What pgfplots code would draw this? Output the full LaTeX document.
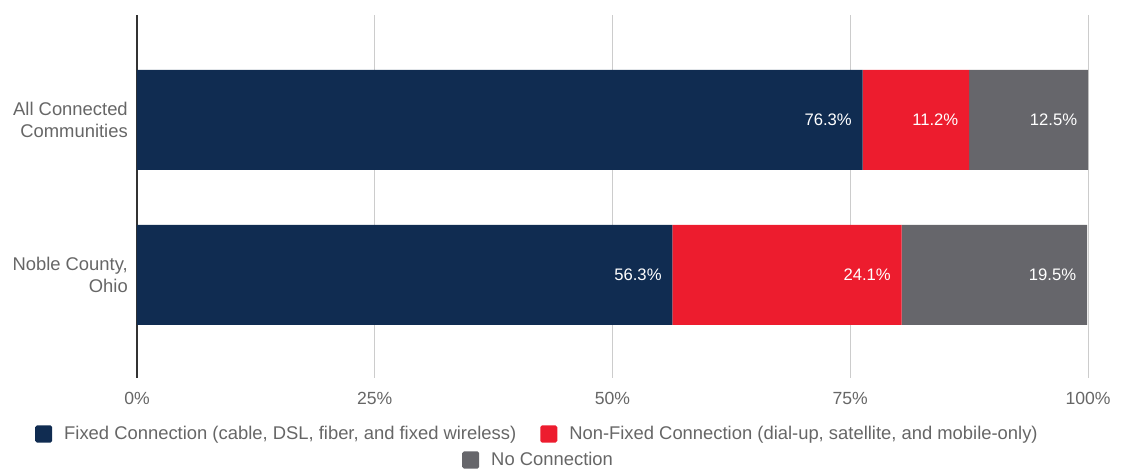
\documentclass[border=0pt]{standalone}
\usepackage{fontspec}
\setmainfont{Liberation Sans}
\usepackage{pgfplots}
\pgfplotsset{compat=1.18}
\definecolor{navy}{RGB}{16,44,81}
\definecolor{cred}{RGB}{237,28,46}
\definecolor{cgray}{RGB}{102,102,107}
\definecolor{txt}{RGB}{102,102,102}
\pgfplotsset{
  sqlegend/.style={legend image code/.code={\fill[##1,draw=none,rounded corners=1.2pt] (0pt,-6.4pt) rectangle (12.75pt,6.4pt);}},
}
\begin{document}
\begin{tikzpicture}[x=1pt,y=1pt]
\useasboundingbox (-102.75,-69) rectangle (739.5,283.5);
\begin{axis}[
  at={(0,0)}, anchor=south west,
  scale only axis, width=713.25pt, height=272.25pt,
  xbar stacked, bar width=75pt,
  xmin=0, xmax=100, ymin=-0.665, ymax=1.677,
  xtick={0,25,50,75,100}, xticklabels={0\%,25\%,50\%,75\%,100\%},
  ytick={0,1}, yticklabels={{Noble County,\\Ohio},{All Connected\\Communities}},
  yticklabel style={align=right, font=\fontsize{13.8}{16.5}\selectfont, xshift=-3.4pt},
  xticklabel style={font=\fontsize{13.2}{15}\selectfont, yshift=-7.5pt},
  major tick length=0pt,
  xmajorgrids, grid style={draw=black!20, line width=0.75pt},
  axis x line*=bottom, axis y line*=left,
  x axis line style={-, draw=none},
  y axis line style={-, draw=black!80, line width=1.1pt},
  tick label style={text=txt},
  sqlegend,
  legend style={at={(-0.1073,-0.1543)}, anchor=west, draw=none, fill=none, inner sep=0pt,
    nodes={inner sep=0pt},
    font=\fontsize{13.8}{15}\selectfont, text=txt, column sep=9pt,
    /tikz/every even column/.append style={column sep=18pt}},
  legend columns=2,
]
\addplot+[fill=navy, draw=none] coordinates {(56.3,0) (76.3,1)};
\addlegendentry{Fixed Connection (cable, DSL, fiber, and fixed wireless)}
\addplot+[fill=cred, draw=none] coordinates {(24.1,0) (11.2,1)};
\addlegendentry{Non-Fixed Connection (dial-up, satellite, and mobile-only)}
\addplot+[fill=cgray, draw=none, forget plot] coordinates {(19.5,0) (12.5,1)};
\end{axis}
\begin{axis}[
  at={(0,0)}, anchor=south west,
  scale only axis, width=713.25pt, height=272.25pt,
  xmin=0, xmax=100, ymin=-0.665, ymax=1.677, hide axis,
  sqlegend,
  legend style={at={(0.3417,-0.2259)}, anchor=west, draw=none, fill=none, inner sep=0pt,
    nodes={inner sep=0pt},
    font=\fontsize{13.8}{15}\selectfont, text=txt, column sep=9pt},
]
\addlegendimage{fill=cgray, draw=none}
\addlegendentry{No Connection}
\addplot[draw=none, mark=none, forget plot, point meta=explicit symbolic,
  nodes near coords,
  every node near coord/.append style={font=\fontsize{12.5}{14}\selectfont, text=white, anchor=east, xshift=-4.6pt}]
  coordinates {(76.3,1) [76.3\%] (87.5,1) [11.2\%] (100,1) [12.5\%]
               (56.3,0) [56.3\%] (80.4,0) [24.1\%] (99.9,0) [19.5\%]};
\end{axis}
\end{tikzpicture}
\end{document}
